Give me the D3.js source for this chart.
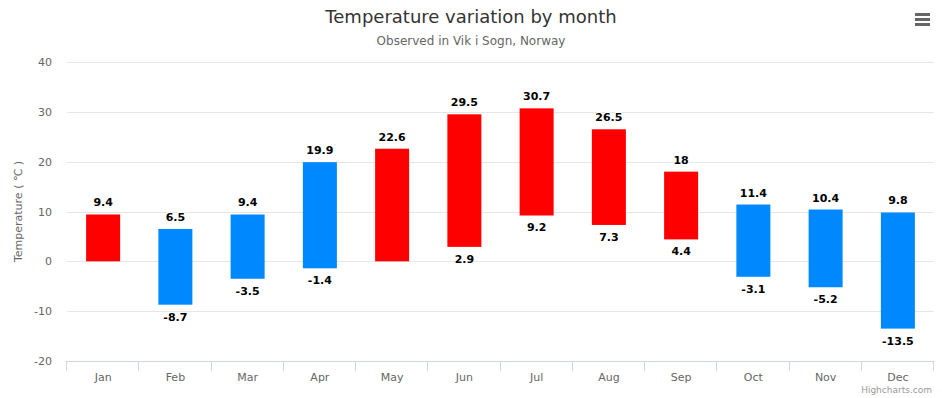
<!DOCTYPE html>
<html><head><meta charset="utf-8">
<script src="https://cdn.jsdelivr.net/npm/d3@7"></script>
<style>body{margin:0;background:#fff;}svg{display:block;font-family:"DejaVu Sans",Verdana,sans-serif;}</style>
</head><body>
<script>
const categories = ["Jan","Feb","Mar","Apr","May","Jun","Jul","Aug","Sep","Oct","Nov","Dec"];
const lows  = [0, -8.7, -3.5, -1.4, 0, 2.9, 9.2, 7.3, 4.4, -3.1, -5.2, -13.5];
const highs = [9.4, 6.5, 9.4, 19.9, 22.6, 29.5, 30.7, 26.5, 18, 11.4, 10.4, 9.8];
const yTicks = [-20, -10, 0, 10, 20, 30, 40];
const warmColor = "#ff0000", coldColor = "#0088ff";

const W = 942, H = 398;
const M = {left: 67, right: 934, top: 62, bottom: 361};
const svg = d3.select("body").append("svg").attr("width", W).attr("height", H);

const x = d3.scaleBand().domain(categories).range([M.left, M.right]).padding(0);
const y = d3.scaleLinear().domain([-20, 40]).range([M.bottom, M.top]);

// gridlines
svg.append("g").selectAll("line").data(yTicks.filter(t => t !== -20)).join("line")
  .attr("x1", M.left).attr("x2", M.right)
  .attr("y1", d => Math.round(y(d)) + 0.5).attr("y2", d => Math.round(y(d)) + 0.5)
  .attr("stroke", "#e6e6e6");

// y axis labels
const yAxis = d3.axisLeft(y).tickValues(yTicks).tickSize(0).tickPadding(0).tickFormat(d => String(d));
const ya = svg.append("g").attr("transform", `translate(${M.left - 15},0)`).call(yAxis);
ya.select(".domain").remove();
ya.selectAll("text").attr("fill", "#666").attr("font-size", 11).attr("font-family", "DejaVu Sans, Verdana, sans-serif").attr("dy", "0.32em");

// y title
svg.append("text").attr("transform", `translate(22,${(M.top + M.bottom) / 2}) rotate(-90)`)
  .attr("text-anchor", "middle").attr("fill", "#666").attr("font-size", 11)
  .text("Temperature ( ℃ )");

// x axis
const xa = svg.append("g").attr("transform", `translate(0,${M.bottom})`)
  .call(d3.axisBottom(x).tickSize(0).tickPadding(12));
xa.select(".domain").attr("stroke", "#ccd6eb").attr("d", `M${M.left},0.5H${M.right}`);
xa.selectAll("text").attr("fill", "#666").attr("font-size", 11).attr("font-family", "DejaVu Sans, Verdana, sans-serif");
// tick marks at category boundaries
const bounds = categories.map(c => x(c)).concat([M.right]);
svg.append("g").selectAll("line").data(bounds).join("line")
  .attr("x1", d => Math.round(d) - 0.5).attr("x2", d => Math.round(d) - 0.5)
  .attr("y1", M.bottom).attr("y2", M.bottom + 10).attr("stroke", "#ccd6eb");

// bars
const data = categories.map((c, i) => ({c, low: lows[i], high: highs[i]}));
const bw = 34;
svg.append("g").selectAll("rect").data(data).join("rect")
  .attr("x", d => x(d.c) + x.bandwidth() / 2 - bw / 2)
  .attr("width", bw)
  .attr("y", d => y(d.high))
  .attr("height", d => y(d.low) - y(d.high))
  .attr("fill", d => d.low >= 0 ? warmColor : coldColor);

// labels
const lab = svg.append("g").attr("font-size", 11).attr("font-weight", "bold").attr("text-anchor", "middle");
function addLabel(sel) {
  sel.attr("fill", "#000").attr("stroke", "#fff").attr("stroke-width", 2).attr("paint-order", "stroke")
    .attr("stroke-linejoin", "round");
}
lab.selectAll("text.hi").data(data).join("text").attr("class", "hi")
  .attr("x", d => x(d.c) + x.bandwidth() / 2).attr("y", d => y(d.high) - 8)
  .text(d => d.high).call(addLabel);
lab.selectAll("text.lo").data(data.filter(d => d.low !== 0)).join("text").attr("class", "lo")
  .attr("x", d => x(d.c) + x.bandwidth() / 2).attr("y", d => y(d.low) + 16)
  .text(d => d.low).call(addLabel);

// title
svg.append("text").attr("x", W / 2).attr("y", 23).attr("text-anchor", "middle")
  .attr("fill", "#333").attr("font-size", 18).text("Temperature variation by month");
svg.append("text").attr("x", W / 2).attr("y", 45).attr("text-anchor", "middle")
  .attr("fill", "#666").attr("font-size", 12).text("Observed in Vik i Sogn, Norway");

// menu icon
svg.append("g").selectAll("line").data([14, 19, 24]).join("line")
  .attr("x1", 915).attr("x2", 930).attr("y1", d => d + 0.5).attr("y2", d => d + 0.5)
  .attr("stroke", "#666").attr("stroke-width", 3);

// credits
svg.append("text").attr("x", 932).attr("y", 393).attr("text-anchor", "end")
  .attr("fill", "#999").attr("font-size", 9).text("Highcharts.com");
</script>
</body></html>
